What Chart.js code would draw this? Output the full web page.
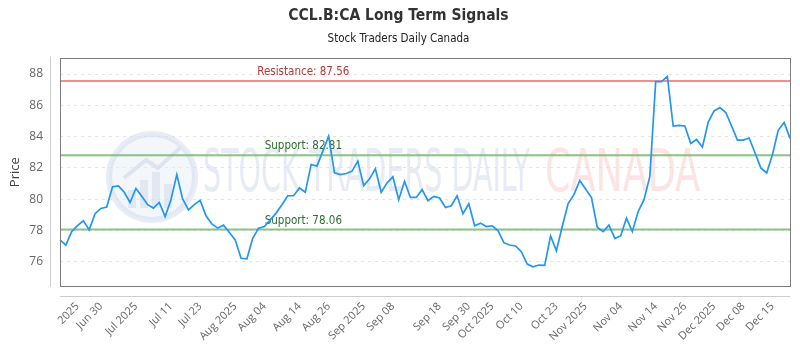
<!DOCTYPE html>
<html><head><meta charset="utf-8">
<script src="https://cdn.jsdelivr.net/npm/chart.js@4.4.1/dist/chart.umd.min.js"></script>
<style>html,body{margin:0;padding:0;background:#fff}#wrap{width:800px;height:350px;position:relative}</style>
</head><body><div id="wrap"><canvas id="c"></canvas></div>
<script>
// ---- data ----
const months = ['Jun','Jul','Aug','Sep','Oct','Nov','Dec'];
const junDays = [20,23,24,25,26,27,30];
const julDays = [1,2,3,7,8,9,10,11,14,15,16,17,18,21,22,23,24,25,28,29,30,31];
const augDays = [1,4,5,6,7,8,11,12,13,14,15,18,19,20,21,22,25,26,27,28,29];
const sepDays = [2,3,4,5,8,9,10,11,12,15,16,17,18,19,22,23,24,25,26,29,30];
const octDays = [1,2,3,6,7,8,9,10,13,14,15,16,17,20,21,22,23,24,27,28,29,30,31];
const novDays = [3,4,5,6,7,10,11,12,13,14,17,18,19,20,21,24,25,26,28];
const decDays = [1,2,3,4,5,8,9,10,11,12,15,16,17];
const dayLists = [junDays,julDays,augDays,sepDays,octDays,novDays,decDays];

const prices = [
 77.40,77.07,77.93,78.31,78.62,78.04,79.07,79.41,79.50,80.80,
 80.85,80.44,79.79,80.69,80.18,79.65,79.43,79.79,78.89,79.97,
 81.57,80.01,79.32,79.65,79.92,78.94,78.42,78.15,78.34,77.87,
 77.40,76.22,76.19,77.50,78.15,78.25,78.68,79.11,79.65,80.22,
 80.22,80.72,80.44,82.22,82.11,83.07,84.03,81.68,81.57,81.64,
 81.79,82.43,80.87,81.30,81.94,80.44,81.04,81.43,79.97,81.14,
 80.11,80.11,80.61,79.90,80.18,80.08,79.47,79.58,80.22,79.07,
 79.71,78.30,78.47,78.25,78.30,77.99,77.22,77.07,77.01,76.64,
 75.85,75.68,75.79,75.77,77.65,76.71,78.25,79.71,80.29,81.19,
 80.65,80.11,78.21,77.93,78.34,77.50,77.65,78.79,77.93,79.21,
 79.97,81.46,87.51,87.51,87.85,84.68,84.72,84.68,83.57,83.82,
 83.33,84.93,85.64,85.86,85.54,84.68,83.78,83.78,83.91,82.97,
 82.00,81.68,82.86,84.42,84.90,83.89
];
const resistanceLevels = [87.56];
const supportLevels = [82.81, 78.06];
const yTicks = [76,78,80,82,84,86,88];
const xTickText = ['2025','Jun 30','Jul 2025','Jul 11','Jul 23','Aug 2025','Aug 04','Aug 14','Aug 26','Sep 2025','Sep 08','Sep 18','Sep 30','Oct 2025','Oct 10','Oct 23','Nov 2025','Nov 04','Nov 14','Nov 26','Dec 2025','Dec 08','Dec 15'];
const xTickAt = [3,7,13,19,24,30,35,41,46,52,57,65,70,74,79,85,90,96,102,107,112,117,122];

const titleText = 'CCL.B:CA Long Term Signals';
const subtitleText = 'Stock Traders Daily Canada';

// ---- build ----
const categories = [];
dayLists.forEach((ds, m) => ds.forEach(d => categories.push(months[m] + ' ' + String(d).padStart(2,'0'))));

const COND = "'DejaVu Sans Condensed','Liberation Sans Narrow',sans-serif";
const SANS = "'Open Sans',sans-serif";

const framePlugin = {
  id: 'frame',
  beforeDatasetsDraw(chart) {
    const {ctx, chartArea: a, scales: {y}} = chart;
    ctx.save();
    // watermark
    const cx = 152, cy = 177, r = 43;
    ctx.beginPath(); ctx.arc(cx, cy, r, 0, Math.PI*2);
    ctx.fillStyle = 'rgba(228,234,245,0.45)'; ctx.fill();
    ctx.lineWidth = 6; ctx.strokeStyle = 'rgba(210,218,236,0.5)'; ctx.stroke();
    ctx.fillStyle = 'rgba(205,214,232,0.45)';
    [[128,190,8,18],[140,180,8,28],[152,172,8,36],[164,184,8,24]].forEach(b => ctx.fillRect(b[0], b[1], b[2], b[3]));
    ctx.beginPath(); ctx.moveTo(124,178); ctx.lineTo(146,160); ctx.lineTo(158,168); ctx.lineTo(180,148);
    ctx.lineWidth = 4; ctx.strokeStyle = 'rgba(205,214,232,0.55)'; ctx.stroke();
    const fitText = (txt, x0, x1, yc, color) => {
      ctx.font = "58px " + COND;
      const w = ctx.measureText(txt).width;
      ctx.save();
      ctx.translate(x0, yc);
      ctx.scale((x1 - x0) / w, 1);
      ctx.fillStyle = color; ctx.textBaseline = 'middle'; ctx.textAlign = 'left';
      ctx.fillText(txt, 0, 0);
      ctx.restore();
    };
    fitText('STOCK TRADERS DAILY', 203, 530, 176, 'rgba(215,222,236,0.6)');
    fitText('CANADA', 545, 700, 176, 'rgba(250,205,205,0.55)');

    // levels
    const labelX = a.left + a.width / 3;
    const drawLevel = (v, lineColor, textColor, prefix) => {
      const py = y.getPixelForValue(v);
      ctx.beginPath(); ctx.moveTo(a.left, py); ctx.lineTo(a.right, py);
      ctx.lineWidth = 2; ctx.strokeStyle = lineColor; ctx.stroke();
      ctx.font = "11.5px " + COND; ctx.fillStyle = textColor;
      ctx.textAlign = 'center'; ctx.textBaseline = 'bottom';
      ctx.fillText(prefix + v.toFixed(2), labelX, py - 3);
    };
    resistanceLevels.forEach(v => drawLevel(v, 'rgba(240,130,130,0.9)', 'rgb(185,55,55)', 'Resistance: '));
    supportLevels.forEach(v => drawLevel(v, 'rgba(120,185,110,0.85)', 'rgb(45,110,45)', 'Support: '));
    ctx.restore();
  },
  afterDraw(chart) {
    const {ctx, chartArea: a} = chart;
    ctx.save();
    ctx.lineWidth = 1;
    ctx.strokeStyle = 'rgb(125,125,125)';
    ctx.strokeRect(Math.round(a.left)+0.5, Math.round(a.top)+0.5, Math.round(a.right-a.left), Math.round(a.bottom-a.top));
    ctx.strokeStyle = 'rgb(205,205,205)';
    ctx.beginPath();
    ctx.moveTo(Math.round(a.left)-9.5, a.top-2); ctx.lineTo(Math.round(a.left)-9.5, a.bottom+1);
    ctx.moveTo(a.left, Math.round(a.bottom)+10.5); ctx.lineTo(a.right, Math.round(a.bottom)+10.5);
    ctx.stroke();
    ctx.restore();
  }
};

new Chart(document.getElementById('c'), {
  type: 'line',
  data: {
    labels: categories,
    datasets: [{
      label: 'Price',
      data: prices,
      borderColor: 'rgb(33,150,243)',
      backgroundColor: 'rgb(33,150,243)',
      borderWidth: 1.7,
      pointRadius: 0,
      tension: 0,
      fill: false
    }]
  },
  options: {
    responsive: true,
    maintainAspectRatio: false,
    animation: false,
    layout: { padding: { left: 7, right: 10, top: 0, bottom: 9 } },
    plugins: {
      legend: { display: false },
      tooltip: { enabled: false },
      title: { display: true, text: titleText, color: '#333', font: { family: COND, size: 15.5, weight: 'bold' }, padding: { top: 7, bottom: 7 } },
      subtitle: { display: true, text: subtitleText, color: '#222', font: { family: COND, size: 11.5 }, padding: { top: 0, bottom: 12 } }
    },
    scales: {
      x: {
        type: 'category',
        grid: { display: false, drawTicks: false },
        border: { display: false },
        afterBuildTicks: (s) => { s.ticks = xTickAt.map(i => ({ value: i })); },
        afterFit: (s) => { s.paddingLeft = 0; s.paddingRight = 0; s.height = 55; },
        ticks: {
          autoSkip: false, maxRotation: 45, minRotation: 45, padding: 14,
          color: '#666', font: { family: SANS, size: 11 },
          callback: (v) => { const k = xTickAt.indexOf(v); return k >= 0 ? xTickText[k] : ''; }
        }
      },
      y: {
        min: 74.45, max: 89.0,
        afterBuildTicks: (s) => { s.ticks = yTicks.map(v => ({ value: v })); },
        afterFit: (s) => { s.width = 53; s.paddingTop = 0; s.paddingBottom = 0; },
        grid: { color: 'rgb(228,228,228)', drawTicks: false, lineWidth: 1 },
        border: { display: false, dash: [3, 4] },
        ticks: { color: '#666', font: { family: SANS, size: 12 }, padding: 17 },
        title: { display: true, text: 'Price', color: '#444', font: { family: SANS, size: 13 }, padding: { top: 0, bottom: 7 } }
      }
    }
  },
  plugins: [framePlugin]
});
</script>
</body></html>
